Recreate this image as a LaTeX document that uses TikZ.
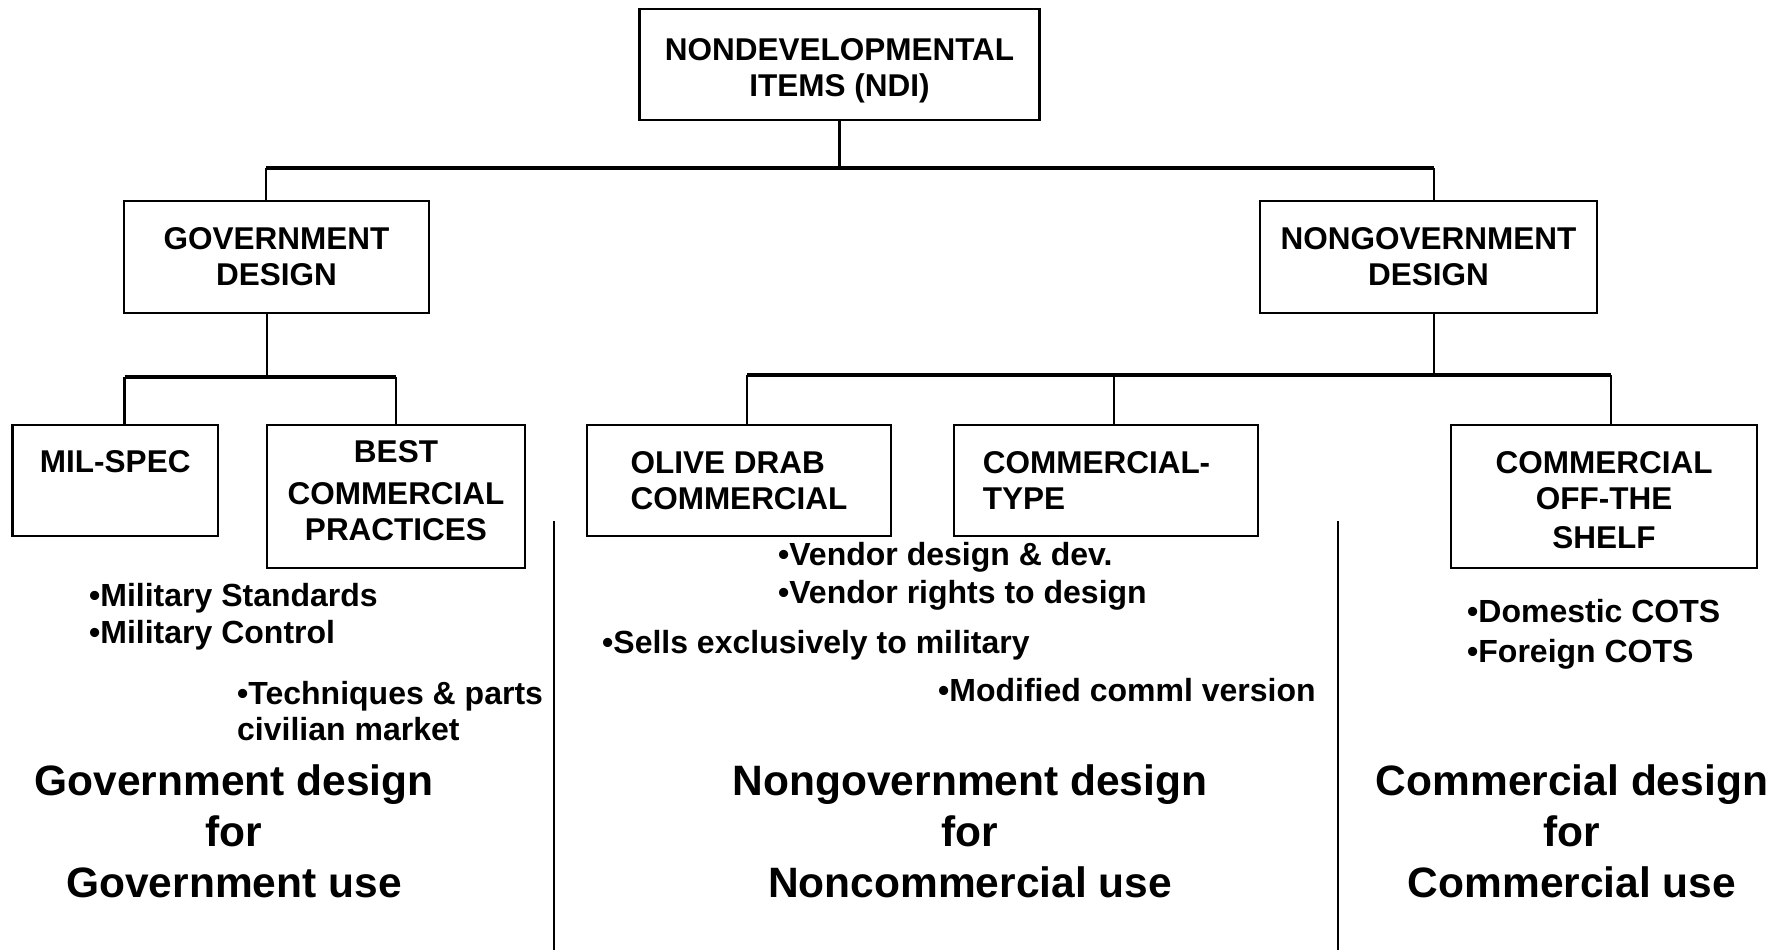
\documentclass[tikz,border=0pt]{standalone}
\usepackage{fontspec}
\setmainfont{Liberation Sans}
\newcommand{\bxfont}{\fontsize{31.5}{36}\selectfont\bfseries}
\newcommand{\blfont}{\fontsize{32}{37}\selectfont\bfseries}
\newcommand{\bgfont}{\fontsize{42.5}{51}\selectfont\bfseries}
\tikzset{
  box/.style={draw, line width=2.8pt, inner sep=0pt, font=\bxfont, align=center},
  wire/.style={line width=2.8pt},
  bus/.style={line width=3.8pt},
  bullets/.style={font=\blfont, align=left, inner sep=0pt, anchor=west},
  big/.style={font=\bgfont, align=center, inner sep=0pt}
}
\begin{document}
\begin{tikzpicture}[x=1pt,y=-1pt]
\useasboundingbox (0,0) rectangle (1792,950);
% boxes
\node[box, minimum width=400pt, minimum height=111pt] (ndi) at (839.5,64.5) {\rule{0pt}{35pt}NONDEVELOPMENTAL\\ITEMS (NDI)};
\node[box, minimum width=305pt, minimum height=112pt] (gov) at (276.5,257) {GOVERNMENT\\DESIGN};
\node[box, minimum width=337pt, minimum height=112pt] (nongov) at (1428.5,257) {NONGOVERNMENT\\DESIGN};
\node[box, minimum width=205.5pt, minimum height=111pt] (milspec) at (115.25,480.5) {MIL-SPEC\rule[-39pt]{0pt}{1pt}};
\node[box, minimum width=258pt, minimum height=143pt] (best) at (396,496.5) {BEST\\[6pt]COMMERCIAL\\PRACTICES\rule[-13pt]{0pt}{1pt}};
\node[box, align=left, minimum width=304pt, minimum height=111pt] (olive) at (739,480.5) {OLIVE DRAB\\COMMERCIAL};
\node[box, align=left, minimum width=304pt, minimum height=111pt] (ctype) at (1106,480.5) {COMMERCIAL-\hspace*{19pt}\\TYPE};
\node[box, minimum width=306pt, minimum height=143pt] (cots) at (1604,496.5) {\rule{0pt}{30pt}COMMERCIAL\\OFF-THE\\[3pt]SHELF};
% top level connectors
\coordinate (bL) at (266,168);
\coordinate (bR) at (1434,168);
\draw[wire] (ndi.south) -- (ndi.south |- bL);
\draw[bus] (bL) -- (bR);
\draw[wire] (bL) -- (bL |- gov.north);
\draw[wire] (bR) -- (bR |- nongov.north);
% government branch
\coordinate (gS) at (267,377);
\coordinate (gbL) at (124.5,377);
\coordinate (gbR) at (396,377);
\draw[wire] (gS |- gov.south) -- (gS);
\draw[bus] (gbL) -- (gbR);
\draw[wire] (gbL) -- (gbL |- milspec.north);
\draw[wire] (gbR) -- (best.north);
% nongovernment branch
\coordinate (nbL) at (747,375);
\coordinate (nbM) at (1114,375);
\coordinate (nbR) at (1611,375);
\draw[wire] (bR |- nongov.south) -- (bR |- nbL);
\draw[bus] (nbL) -- (nbR);
\draw[wire] (nbL) -- (nbL |- olive.north);
\draw[wire] (nbM) -- (nbM |- ctype.north);
\draw[wire] (nbR) -- (nbR |- cots.north);
% separators
\coordinate (s1t) at (554,521);
\coordinate (s1b) at (554,950);
\coordinate (s2t) at (1338,521);
\coordinate (s2b) at (1338,950);
\draw[wire] (s1t) -- (s1b);
\draw[wire] (s2t) -- (s2b);
% bullet texts
\node[bullets] (milbul) at (89,617) {•Military Standards\\•Military Control};
\node[bullets, font=\fontsize{32}{36}\selectfont\bfseries] (tech) at (237,711) {•Techniques \& parts\\civilian market};
\node[bullets, font=\fontsize{32}{38}\selectfont\bfseries] (vend) at (778,576) {•Vendor design \& dev.\\•Vendor rights to design};
\node[bullets] (sells) at (602,645) {•Sells exclusively to military};
\node[bullets] (modif) at (938,690) {•Modified comml version};
\node[bullets, font=\fontsize{32}{40}\selectfont\bfseries] (cotsbul) at (1467,634) {•Domestic COTS\\•Foreign COTS};
% big column captions
\node[big] (gcol) at (234,831) {Government design\\for\\Government use};
\node[big] (ncol) at (970,831) {Nongovernment design\\for\\Noncommercial use};
\node[big] (ccol) at (1572,831) {Commercial design\\for\\Commercial use};
\end{tikzpicture}
\end{document}
